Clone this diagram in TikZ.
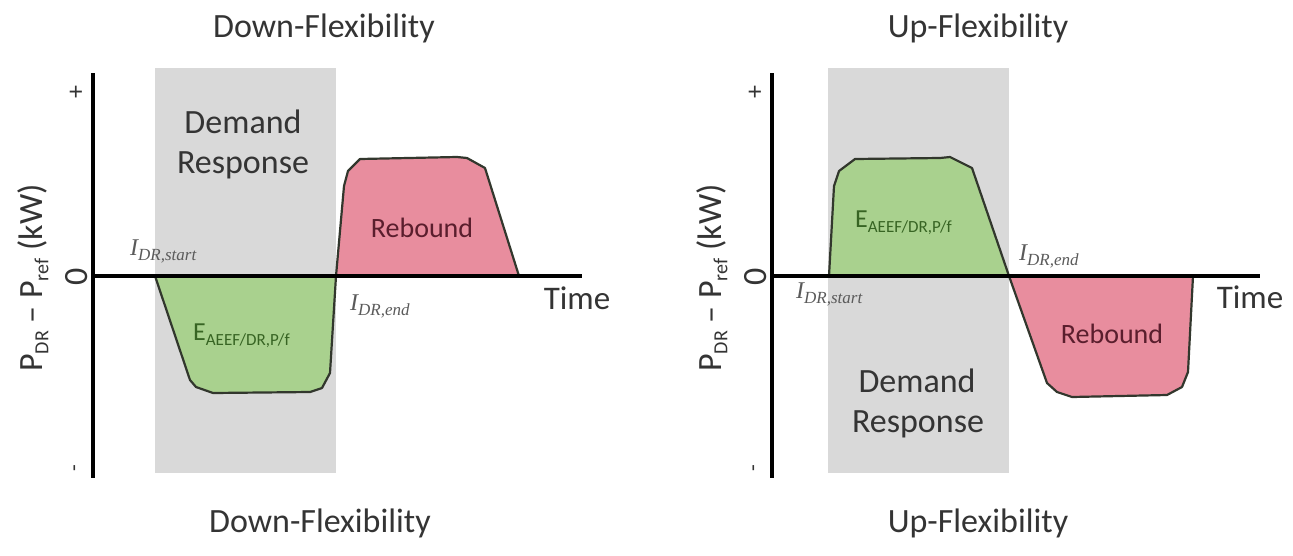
\documentclass[tikz,border=0pt]{standalone}
\usepackage{fontspec}
\setmainfont{Carlito}
\newfontfamily\serifface{Liberation Serif}
\newcommand\fsz[1]{\fontsize{#1}{#1}\selectfont}
\newcommand\ilab[1]{{\serifface\itshape\fsz{24}I}\raisebox{-5pt}{\serifface\itshape\fsz{17}#1}}
\newcommand\elab{{\fsz{26}E}\raisebox{-5pt}{\fsz{17}AEEF/DR,P/f}}
\newcommand\ylab{\fsz{34}P\raisebox{-6pt}{\fsz{20}DR} \textendash{} P\raisebox{-6pt}{\fsz{20}ref} (kW)}
\definecolor{bandgray}{RGB}{217,217,217}
\definecolor{flexgreen}{RGB}{169,209,142}
\definecolor{rebpink}{RGB}{232,141,158}
\definecolor{txtgray}{RGB}{52,52,52}
\definecolor{labgray}{RGB}{90,90,90}
\definecolor{egreen}{RGB}{55,100,35}
\definecolor{rebtxt}{RGB}{90,30,45}
\definecolor{edge}{RGB}{50,55,45}
\tikzset{
  axisline/.style={line width=3.2pt, black},
  band/.style={fill=bandgray, draw=none},
  greenarea/.style={fill=flexgreen, draw=edge, line width=2.2pt, line join=round},
  pinkarea/.style={fill=rebpink, draw=edge, line width=2.2pt, line join=round},
  title/.style={font=\fsz{34}, text=txtgray, anchor=base, inner sep=0pt},
  bandtext/.style={font=\fsz{34}, text=txtgray, anchor=base, inner sep=0pt},
  rebtext/.style={font=\fsz{28}, text=rebtxt, anchor=base, inner sep=0pt},
  etext/.style={text=egreen, anchor=base west, inner sep=0pt},
  itext/.style={text=labgray, anchor=base west, inner sep=0pt},
  timetext/.style={font=\fsz{33}, text=txtgray, anchor=base, inner sep=0pt},
  ytext/.style={text=txtgray, rotate=90, inner sep=0pt},
  tick/.style={text=txtgray, rotate=90, inner sep=0pt},
}
\begin{document}
\begin{tikzpicture}[x=1pt,y=-1pt]
\useasboundingbox (0,0) rectangle (1293,555);

% ---------- left panel: down-flexibility ----------
\node[band, minimum width=181pt, minimum height=405pt, inner sep=0pt] (bandL) at (245.5,270) {};
\filldraw[greenarea] (155,276) -- (190,380) -- (196,387) -- (213,393) -- (310,392)
  -- (322,388) -- (330,373) -- (336,276) -- cycle;
\filldraw[pinkarea] (336,276) -- (344,186) -- (348,171) -- (360,159) -- (457,157)
  -- (467,158) -- (485,168) -- (519,276) -- cycle;
\coordinate (oL) at (93,276);
\coordinate (topL) at (93,73);
\coordinate (botL) at (93,478);
\coordinate (endL) at (582,276);
\draw[axisline] (topL) -- (botL);
\draw[axisline] (oL) -- (endL);

\node[title] (titleL) at (324,37) {Down-Flexibility};
\node[title] (footL) at (320,532) {Down-Flexibility};
\node[bandtext] (demL) at (243,133) {Demand};
\node[bandtext] (resL) at (243,173) {Response};
\node[rebtext] (rebL) at (422,237) {Rebound};
\node[etext] (eL) at (193,340) {\elab};
\node[itext] (startL) at (130,255) {\ilab{DR,start}};
\node[itext] (finL) at (350,310) {\ilab{DR,end}};
\node[timetext] (timeL) at (577,309) {Time};
\node[ytext] (yL) at (33,278) {\ylab};
\node[tick, font=\fsz{26}] (plusL) at (77,92) {+};
\node[tick, font=\fsz{34}] (zeroL) at (77,277) {0};
\node[tick, font=\fsz{22}] (minusL) at (77,468) {-};

% ---------- right panel: up-flexibility ----------
\node[band, minimum width=181pt, minimum height=405pt, inner sep=0pt] (bandR) at (918.5,270) {};
\filldraw[greenarea] (829,276) -- (834,186) -- (839,171) -- (855,159) -- (940,158)
  -- (950,157) -- (972,168) -- (1009,276) -- cycle;
\filldraw[pinkarea] (1009,276) -- (1047,383) -- (1057,392) -- (1072,397) -- (1167,395)
  -- (1182,387) -- (1188,372) -- (1193,276) -- cycle;
\coordinate (oR) at (772,276);
\coordinate (topR) at (772,73);
\coordinate (botR) at (772,478);
\coordinate (endR) at (1260,276);
\draw[axisline] (topR) -- (botR);
\draw[axisline] (oR) -- (endR);

\node[title] (titleR) at (978,37) {Up-Flexibility};
\node[title] (footR) at (978,532) {Up-Flexibility};
\node[bandtext] (demR) at (917,392) {Demand};
\node[bandtext] (resR) at (918,432) {Response};
\node[rebtext] (rebR) at (1112,343) {Rebound};
\node[etext] (eR) at (855,227) {\elab};
\node[itext] (startR) at (796,298) {\ilab{DR,start}};
\node[itext] (finR) at (1019,260) {\ilab{DR,end}};
\node[timetext] (timeR) at (1250,308) {Time};
\node[ytext] (yR) at (712,278) {\ylab};
\node[tick, font=\fsz{26}] (plusR) at (756,92) {+};
\node[tick, font=\fsz{34}] (zeroR) at (756,277) {0};
\node[tick, font=\fsz{22}] (minusR) at (756,468) {-};
\end{tikzpicture}
\end{document}
